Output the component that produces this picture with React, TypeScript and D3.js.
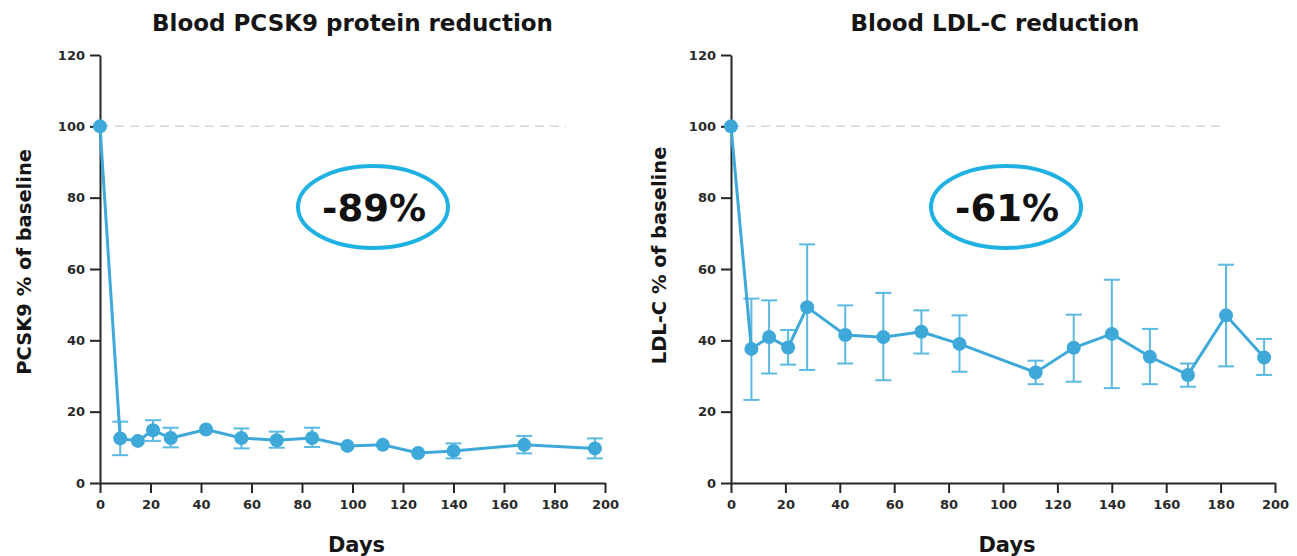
import React, { useRef, useEffect } from 'react';
import * as d3 from 'd3';

// PCSK9 panel
const pcsk9Days = [0, 8, 15, 21, 28, 42, 56, 70, 84, 98, 112, 126, 140, 168, 196];
const pcsk9Mean = [100, 12.5, 11.8, 14.8, 12.6, 15.0, 12.6, 12.0, 12.6, 10.4, 10.7, 8.4, 9.0, 10.7, 9.7];
const pcsk9Upper = [100, 17.2, 11.8, 17.6, 15.5, 15.0, 15.3, 14.4, 15.5, 10.4, 10.7, 8.4, 11.1, 13.2, 12.5];
const pcsk9Lower = [100, 7.8, 11.8, 11.8, 10.0, 15.0, 9.7, 9.9, 10.1, 10.4, 10.7, 8.4, 6.9, 8.3, 6.9];

// LDL-C panel
const ldlDays = [0, 7.5, 14, 21, 28, 42, 56, 70, 84, 112, 126, 140, 154, 168, 182, 196];
const ldlMean = [100, 37.6, 40.9, 38.0, 49.3, 41.5, 40.9, 42.4, 39.0, 31.0, 37.9, 41.8, 35.4, 30.3, 47.0, 35.2];
const ldlUpper = [100, 51.7, 51.2, 42.9, 66.9, 49.8, 53.3, 48.4, 47.0, 34.3, 47.2, 57.0, 43.2, 33.5, 61.2, 40.4];
const ldlLower = [100, 23.3, 30.7, 33.2, 31.7, 33.5, 28.8, 36.3, 31.2, 27.7, 28.4, 26.6, 27.7, 27.0, 32.7, 30.3];

const xTicks = [0, 20, 40, 60, 80, 100, 120, 140, 160, 180, 200];
const yTicks = [0, 20, 40, 60, 80, 100, 120];

const titles = ['Blood PCSK9 protein reduction', 'Blood LDL-C reduction'];
const yLabels = ['PCSK9 % of baseline', 'LDL-C % of baseline'];
const callouts = ['-89%', '-61%'];

const BLUE = '#3ea9d9';
const RING = '#1fb1e2';
const FONT = '"DejaVu Sans", sans-serif';

function App() {
  const svgRef = useRef(null);

  useEffect(() => {
    const svg = d3.select(svgRef.current);
    svg.selectAll('*').remove();

    const panels = [
      { days: pcsk9Days, mean: pcsk9Mean, upper: pcsk9Upper, lower: pcsk9Lower, left: 100, right: 605, dashEnd: 566, ring: [373, 207], labelX: 31, labelAt: 62 },
      { days: ldlDays, mean: ldlMean, upper: ldlUpper, lower: ldlLower, left: 731, right: 1275, dashEnd: 1226, ring: [1006, 207], labelX: 666, labelAt: 63.8 },
    ];

    panels.forEach((p, i) => {
      const x = d3.scaleLinear().domain([0, 200]).range([p.left, p.right]);
      const y = d3.scaleLinear().domain([0, 120]).range([483, 55]);
      const g = svg.append('g');

      // title
      g.append('text')
        .attr('x', (p.left + p.right) / 2 - (i === 0 ? 0 : 8))
        .attr('y', 31)
        .attr('text-anchor', 'middle')
        .attr('font-family', FONT)
        .attr('font-weight', 700)
        .attr('font-size', 23)
        .attr('fill', '#151515')
        .text(titles[i]);

      // baseline reference
      g.append('line')
        .attr('x1', x(0)).attr('x2', p.dashEnd)
        .attr('y1', y(100)).attr('y2', y(100))
        .attr('stroke', '#d6d6d6')
        .attr('stroke-width', 1.5)
        .attr('stroke-dasharray', '9,6');

      // axes
      const yAxis = g.append('g')
        .attr('transform', `translate(${x(0)},0)`)
        .call(d3.axisLeft(y).tickValues(yTicks).tickSize(10).tickSizeOuter(0).tickPadding(5));
      const xAxis = g.append('g')
        .attr('transform', `translate(0,${y(0)})`)
        .call(d3.axisBottom(x).tickValues(xTicks).tickSize(10).tickSizeOuter(0).tickPadding(7));
      [yAxis, xAxis].forEach(a => {
        a.selectAll('path, line').attr('stroke', '#262626').attr('stroke-width', 2);
        a.selectAll('text')
          .attr('font-family', FONT)
          .attr('font-weight', 700)
          .attr('font-size', 13)
          .attr('fill', '#2a2a2a');
      });

      // axis titles
      g.append('text')
        .attr('transform', `translate(${p.labelX},${y(p.labelAt)}) rotate(-90)`)
        .attr('text-anchor', 'middle')
        .attr('font-family', FONT)
        .attr('font-weight', 700)
        .attr('font-size', 19.5)
        .attr('fill', '#151515')
        .text(yLabels[i]);
      g.append('text')
        .attr('x', x(100) + 4)
        .attr('y', 552)
        .attr('text-anchor', 'middle')
        .attr('font-family', FONT)
        .attr('font-weight', 700)
        .attr('font-size', 21)
        .attr('fill', '#151515')
        .text('Days');

      const pts = p.days.map((d, k) => ({ d, m: p.mean[k], hi: p.upper[k], lo: p.lower[k] }));

      // error bars
      const err = g.append('g').attr('stroke', '#5bb9e2').attr('stroke-width', 2);
      pts.filter(q => q.hi - q.lo > 0.5).forEach(q => {
        err.append('line').attr('x1', x(q.d)).attr('x2', x(q.d)).attr('y1', y(q.hi)).attr('y2', y(q.lo));
        [q.hi, q.lo].forEach(v => {
          err.append('line').attr('x1', x(q.d) - 8).attr('x2', x(q.d) + 8).attr('y1', y(v)).attr('y2', y(v));
        });
      });

      // line + markers
      const line = d3.line().x(q => x(q.d)).y(q => y(q.m));
      g.append('path')
        .datum(pts)
        .attr('d', line)
        .attr('fill', 'none')
        .attr('stroke', BLUE)
        .attr('stroke-width', 3);
      g.selectAll('circle.pt')
        .data(pts)
        .join('circle')
        .attr('class', 'pt')
        .attr('cx', q => x(q.d))
        .attr('cy', q => y(q.m))
        .attr('r', 7)
        .attr('fill', BLUE);

      // callout
      g.append('ellipse')
        .attr('cx', p.ring[0]).attr('cy', p.ring[1])
        .attr('rx', 75).attr('ry', 41)
        .attr('fill', 'none')
        .attr('stroke', RING)
        .attr('stroke-width', 4);
      g.append('text')
        .attr('x', p.ring[0] + 1)
        .attr('y', p.ring[1] + 14)
        .attr('text-anchor', 'middle')
        .attr('font-family', FONT)
        .attr('font-weight', 700)
        .attr('font-size', 37)
        .attr('fill', '#111')
        .text(callouts[i]);
    });
  }, []);

  return (
    <svg ref={svgRef} width={1297} height={556}
      style={{ position: 'absolute', left: 0, top: 0, background: '#fff' }} />
  );
}

export default App;
